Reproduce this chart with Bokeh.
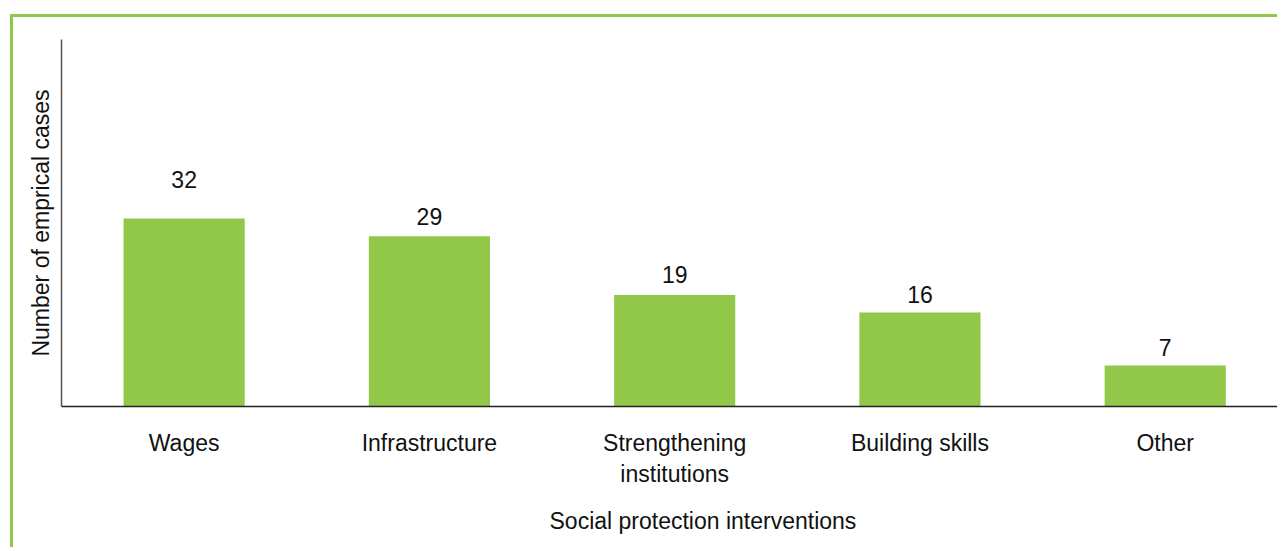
import numpy as np
from bokeh.plotting import figure
from bokeh.models import ColumnDataSource, Range1d, FixedTicker, Title
from bokeh.core.properties import value
from bokeh.embed import file_html
from bokeh.resources import INLINE

categories = ["Wages", "Infrastructure", "Strengthening\ninstitutions", "Building skills", "Other"]
counts = [32, 29, 19, 16, 7]
label_offsets = [31, 11, 12, 10, 9]

GREEN = "#92C84A"
FONT = "Liberation Sans"
x = (np.arange(len(categories)) + 0.5).tolist()

src = ColumnDataSource(dict(x=x, top=counts, lab=[str(c) for c in counts],
                            yoff=[-o for o in label_offsets]))

p = figure(width=1267, height=533, output_backend="svg", toolbar_location=None,
           x_range=Range1d(0, 4.970), y_range=Range1d(0, 62.5),
           min_border_left=48, min_border_right=0, min_border_top=22, min_border_bottom=0,
           margin=(14, 0, 0, 10),
           styles={"border-top": f"3px solid {GREEN}", "border-left": f"3px solid {GREEN}"})
p.outline_line_color = None
p.grid.visible = False
p.background_fill_color = "white"
p.border_fill_color = "white"

p.vbar(x="x", top="top", bottom=0, width=0.494, source=src, fill_color=GREEN, line_color=None)
p.text(x="x", y="top", text="lab", y_offset="yoff", source=src, text_align="center",
       text_baseline="bottom", text_font=value(FONT), text_font_size="23px", text_color="#111111")

xa = p.xaxis[0]
xa.ticker = FixedTicker(ticks=x)
xa.major_label_overrides = {xv: c for xv, c in zip(x, categories)}
xa.major_tick_out = 0
xa.major_tick_in = 0
xa.minor_tick_out = 0
xa.minor_tick_in = 0
xa.major_label_standoff = 23
xa.major_label_text_font = FONT
xa.major_label_text_font_size = "23px"
xa.major_label_text_color = "#111111"
xa.axis_line_color = "#222222"
xa.axis_line_width = 1.5

ya = p.yaxis[0]
ya.ticker = FixedTicker(ticks=[])
ya.major_tick_out = 0
ya.minor_tick_out = 0
ya.axis_line_color = "#555555"
ya.axis_line_width = 1.5
ya.axis_label = "Number of emprical cases"
ya.axis_label_text_font = FONT
ya.axis_label_text_font_size = "23px"
ya.axis_label_text_font_style = "normal"
ya.axis_label_text_color = "#111111"
ya.axis_label_standoff = 8

t = Title(text="Social protection interventions", align="left", offset=488, standoff=33,
          text_font=FONT, text_font_size="23px", text_font_style="normal", text_color="#111111")
p.add_layout(t, "below")

open("out.html", "w").write(file_html(p, INLINE))
